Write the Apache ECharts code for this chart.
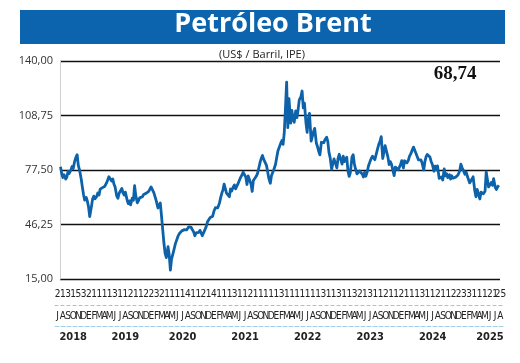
<!DOCTYPE html>
<html>
<head>
<meta charset="utf-8">
<script src="https://cdn.jsdelivr.net/npm/echarts@6/dist/echarts.min.js"></script>
<style>
html,body{margin:0;padding:0;background:#fff;}
#c{width:520px;height:363px;}
</style>
</head>
<body>
<div id="c"></div>
<script>
// ---- data ----
const startYear = 2018, startMonth = 7; // July 2018
// four readings per month (approx. days 4, 11, 18, 25), US$ per barrel
const brent = [
  // 2018 Jul..Dec
  79.4,75.5,73.2,74.8, 72.3,73.5,76.8,75.5, 77.5,79.6,78.4,82, 84.8,86.3,80.2,77.6,
  72.5,67.8,63.5,60.2, 61.8,59.6,56.2,50.8,
  // 2019
  56.5,60.8,62.5,61, 62.2,64.3,63.1,66.5, 65.8,67.4,66.6,68.2, 70.1,71.8,73.6,74.6,
  71.2,72.4,69.5,67.8, 62.5,61.3,64.2,65.1, 66.9,64.4,63.2,64.8, 60.5,58.2,59.8,57.5,
  61.4,60.2,68.5,62.8, 58.7,59.9,61.5,60.8, 62.2,63.5,62.6,64.1, 63.4,65.2,66.5,67.8,
  // 2020
  68.9,64.4,62.1,59.8, 55.7,56.8,58.6,51.3, 51.9,35.2,29.5,27.3, 33.5,28.9,20.1,26.4,
  29.7,32.5,35.3,36.2, 39.9,41.1,40.5,42.6, 42.8,43.3,43.6,43.2, 44.9,45.4,44.8,45.6,
  41.9,39.8,41.4,42.2, 41.7,42.9,41.4,39.8, 38.9,43.6,45.3,47.8, 48.9,50.3,51.3,50.9,
  // 2021
  54.3,55.9,55.1,55.8, 58.5,61.5,64.1,66.1, 69.4,68.9,64.3,64.4, 62.2,66.6,65.4,67.4,
  68.9,66.7,67.1,69.5, 71.9,73.4,74.6,76.2, 75.7,73.4,69.2,74.1, 71.3,69.4,65.2,71.5,
  72.3,73.9,75.3,78.1, 81.9,84.2,85.8,83.7, 82.7,80.2,79.5,72.7, 69.9,74.4,73.5,77.8,
  // 2022
  80.8,84.7,88.4,89.3, 92.9,94.4,92.2,99.1, 112.9,127.9,101.8,118.4, 104.4,111.7,106.6,104.9,
  111.4,107.5,111.8,117.6, 119.5,122.8,113.1,115.8, 104.6,99.1,106.9,110, 94.1,95.1,99.5,101.4,
  92.8,90.8,88.2,86.2, 93.4,92.5,93.2,94.8, 96.3,93.9,87.6,84.6, 77.9,81.2,83.9,84.3,
  // 2023
  78.7,84.1,86.5,86.6, 80.9,85.4,82.3,83.2, 84.8,76.9,73.8,75.9, 84.9,86.3,81.1,78.1,
  75.3,74.2,76.9,77.1, 75.2,73.5,76.1,73.9, 76.5,79.8,80.6,83.6, 85.4,86.2,83.4,84.4,
  89.9,92.4,93.9,96.6, 84.1,87.7,91.5,90.4, 84.9,80.6,82.3,80.9, 77.1,74.3,79.2,78.6,
  // 2024
  77.6,78.3,80.6,82.9, 78.7,82.8,83.3,81.6, 82.9,85.3,86.6,87.1, 90.6,89.7,87.3,88.1,
  83.3,82.8,83.3,81.6, 77.5,82.3,85.1,86.4, 86.9,84.9,82.4,80.8, 76.8,79.7,77.6,79.9,
  72.7,71.6,73.5,71.8, 78.1,74.2,75.4,73.1, 74.8,72.3,74.2,72.8, 71.9,73.4,72.9,74.6,
  // 2025 Jan..Aug
  76.9,80.8,78.9,77.5, 75.1,76.4,74.2,73.2, 70.1,70.8,72.3,73.6, 65.6,62.1,66.4,65.8,
  60.9,64.8,64.4,63.9, 65.3,76.4,77.2,67.8, 68.3,70.4,68.7,72.5, 67.5,66.3,67.8,68.74
];
const readingDays = [4, 11, 18, 25];
const monthLetters = ("JASOND" + "EFMAMJJASOND".repeat(6) + "EFMAMJJA").split("");
const monthCounts = ("2131532111131121122321111411214111311211" +
                     "111311111113113113213112112111311211223311121").split("").concat(["25"]);
const yearLabels = ["2018","2019","2020","2021","2022","2023","2024","2025"];
const yearLabelMonth = [3,13,24,36,48,60,72,83];
const yTicks = [15, 46.25, 77.5, 108.75, 140];
const lastValue = "68,74";

// ---- build ----
const perMonth = readingDays.length;
const seriesData = brent.map((v, i) => {
  const m = Math.floor(i / perMonth);
  const totalM = startMonth - 1 + m;
  const y = startYear + Math.floor(totalM / 12);
  const mm = totalM % 12;
  return [Date.UTC(y, mm, readingDays[i % perMonth]), v];
});
const yearAt = {};
yearLabelMonth.forEach((m, k) => { yearAt[m] = yearLabels[k]; });

const narrow = "'Liberation Sans Narrow', 'DejaVu Sans Condensed', 'Liberation Sans', sans-serif";
const chart = echarts.init(document.getElementById('c'), null, {renderer: 'canvas'});
chart.setOption({
  animation: false,
  backgroundColor: '#fff',
  graphic: [{
    type: 'rect', left: 20, top: 10, z: -1,
    shape: {width: 485, height: 34},
    style: {fill: '#0d64ae'}
  }],
  title: [
    {text: 'Petróleo Brent', left: 273, top: 11, textAlign: 'center', padding: 0,
     textStyle: {color: '#fff', fontSize: 27, fontWeight: 'bold', fontFamily: "'Open Sans', 'Noto Sans', sans-serif"}},
    {text: '(US$ / Barril, IPE)', left: 262, top: 49, textAlign: 'center', padding: 0,
     textStyle: {color: '#222', fontSize: 11, fontWeight: 'normal', fontFamily: "'Open Sans', 'Noto Sans', sans-serif"}},
    {text: lastValue, left: 455, top: 65, textAlign: 'center', padding: 0,
     textStyle: {color: '#111', fontSize: 19, fontWeight: 'bold', fontFamily: "'Liberation Serif', 'DejaVu Serif', serif"}}
  ],
  grid: [
    {left: 60, right: 20, top: 61, height: 218},
    {left: 55, right: 17, top: 304, height: 1},
    {left: 55, right: 17, top: 325, height: 1}
  ],
  xAxis: [
    {type: 'time', gridIndex: 0, min: Date.UTC(2018, 6, 1), max: Date.UTC(2025, 8, 1), show: false},
    {type: 'category', gridIndex: 1, position: 'top', data: monthCounts, boundaryGap: true,
     axisLine: {show: true, lineStyle: {color: '#a9bfd6', type: [3, 3], width: 1}},
     axisTick: {show: false},
     axisLabel: {interval: 0, margin: 5, fontSize: 10, color: '#222', fontFamily: narrow}},
    {type: 'category', gridIndex: 1, position: 'bottom', data: monthLetters, boundaryGap: true,
     axisLine: {show: false}, axisTick: {show: false},
     axisLabel: {interval: 0, margin: 6, fontSize: 10, color: '#222', fontFamily: narrow}},
    {type: 'category', gridIndex: 2, position: 'bottom', data: monthLetters.map((_, i) => i), boundaryGap: true,
     axisLine: {show: true, lineStyle: {color: '#9fd0ea', type: [4, 2], width: 1}},
     axisTick: {show: false},
     axisLabel: {interval: 0, margin: 6, fontSize: 11, fontWeight: 'bold', color: '#222', fontFamily: narrow,
       formatter: (v, i) => yearAt[i] || ''}}
  ],
  yAxis: [
    {type: 'value', gridIndex: 0, min: yTicks[0], max: yTicks[yTicks.length - 1], interval: yTicks[1] - yTicks[0],
     axisLine: {show: true, lineStyle: {color: '#d0d0d0', width: 1}},
     axisTick: {show: false},
     splitLine: {show: true, lineStyle: {color: '#111', width: 1.3}},
     axisLabel: {margin: 7, fontSize: 11, color: '#333', fontFamily: "'Open Sans', 'Liberation Sans', sans-serif",
       formatter: v => v.toFixed(2).replace('.', ',')}},
    {type: 'value', gridIndex: 1, show: false},
    {type: 'value', gridIndex: 2, show: false}
  ],
  series: [{
    type: 'line', xAxisIndex: 0, yAxisIndex: 0, data: seriesData,
    showSymbol: false, smooth: false,
    lineStyle: {color: '#0d62aa', width: 2.8, join: 'round'},
    z: 5
  }]
});
</script>
</body>
</html>
